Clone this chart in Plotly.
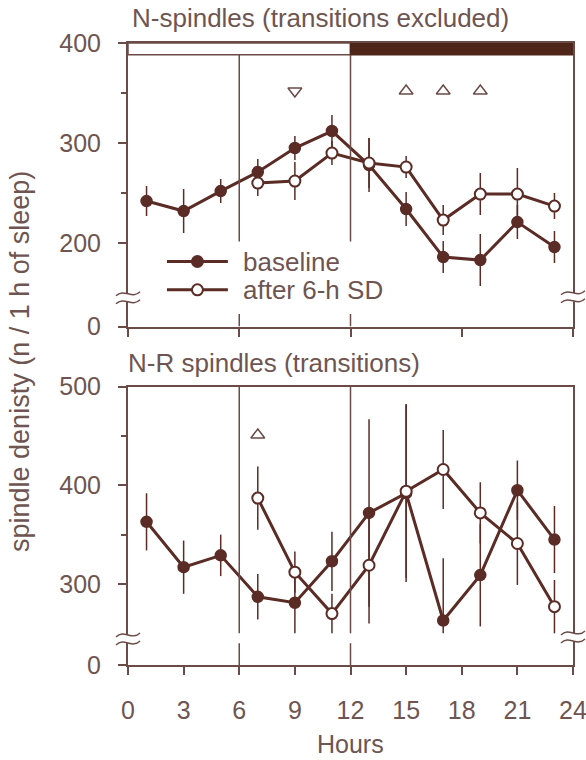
import plotly.graph_objects as go

# ---- data: spindle density per 2-h bin (mean and error) ----
hours = [1, 3, 5, 7, 9, 11, 13, 15, 17, 19, 21, 23]
hours_sd = [7, 9, 11, 13, 15, 17, 19, 21, 23]

# N-spindles (transitions excluded)
n_base = [242, 232, 252, 271, 295, 312, 278, 234, 186, 183, 221, 196]
n_base_err = [15, 22, 12, 13, 12, 16, 27, 17, 16, 26, 17, 16]
n_sd = [260, 262, 290, 280, 276, 223, 249, 249, 237]
n_sd_err = [13, 19, 12, 25, 11, 15, 21, 26, 13]

# N-R spindles (transitions)
nr_base = [363, 317, 329, 287, 281, 323, 372, 392, 263, 309, 395, 345]
nr_base_err_up = [29, 27, 21, 23, 31, 30, 95, 90, 63, 52, 30, 34]
nr_base_err_dn = [29, 27, 21, 23, 31, 30, 95, 90, 13, 52, 30, 34]
nr_sd = [387, 312, 270, 319, 394, 416, 372, 341, 277]
nr_sd_err = [32, 21, 20, 59, 88, 40, 31, 42, 27]

# significance markers (hour, direction)
sig_n_x = [9, 15, 17, 19]
sig_n_sym = ["triangle-down-open", "triangle-up-open", "triangle-up-open", "triangle-up-open"]
sig_n_level = 352
sig_nr_x = [7]
sig_nr_sym = ["triangle-up-open"]
sig_nr_level = 451

x_ticks = [0, 3, 6, 9, 12, 15, 18, 21, 24]

# ---- styling ----
LINE = "#5a2c25"
AXIS = "#6b4b47"
TEXT = "#6e5551"
DARK = "#4e2519"
FONT = "Liberation Sans, Arial, sans-serif"

W, H = 586, 760
ML, MR, MT, MB = 128, 12.5, 43.3, 95
PW = W - ML - MR
PH = H - MT - MB

# broken-axis baselines: value where the "0" label sits
top_zero = 116.6
bot_zero = 217.9


def px(xp):
    return (xp - ML) / PW


def py(yp):
    return (H - MB - yp) / PH


fig = go.Figure()

# ---- top panel traces ----
fig.add_trace(go.Scatter(
    x=hours, y=n_base, mode="lines+markers", xaxis="x2", yaxis="y2",
    line=dict(color=LINE, width=3),
    marker=dict(size=11, color=LINE, line=dict(color=LINE, width=1.5)),
    error_y=dict(type="data", array=n_base_err, color=LINE, thickness=1.5, width=0),
    name="baseline", showlegend=False))
fig.add_trace(go.Scatter(
    x=hours_sd, y=n_sd, mode="lines+markers", xaxis="x2", yaxis="y2",
    line=dict(color=LINE, width=3),
    marker=dict(size=11, color="white", line=dict(color=LINE, width=2)),
    error_y=dict(type="data", array=n_sd_err, color=LINE, thickness=1.5, width=0),
    name="after 6-h SD", showlegend=False))
fig.add_trace(go.Scatter(
    x=sig_n_x, y=[sig_n_level] * len(sig_n_x), mode="markers", xaxis="x2", yaxis="y2",
    marker=dict(symbol=sig_n_sym, size=12, color=AXIS, line=dict(color=AXIS, width=1.5)),
    showlegend=False, hoverinfo="skip"))

# ---- bottom panel traces ----
fig.add_trace(go.Scatter(
    x=hours, y=nr_base, mode="lines+markers", xaxis="x", yaxis="y",
    line=dict(color=LINE, width=3),
    marker=dict(size=11, color=LINE, line=dict(color=LINE, width=1.5)),
    error_y=dict(type="data", array=nr_base_err_up, arrayminus=nr_base_err_dn,
                 color=LINE, thickness=1.5, width=0),
    name="baseline", showlegend=False))
fig.add_trace(go.Scatter(
    x=hours_sd, y=nr_sd, mode="lines+markers", xaxis="x", yaxis="y",
    line=dict(color=LINE, width=3),
    marker=dict(size=11, color="white", line=dict(color=LINE, width=2)),
    error_y=dict(type="data", array=nr_sd_err, color=LINE, thickness=1.5, width=0),
    name="after 6-h SD", showlegend=False))
fig.add_trace(go.Scatter(
    x=sig_nr_x, y=[sig_nr_level] * len(sig_nr_x), mode="markers", xaxis="x", yaxis="y",
    marker=dict(symbol=sig_nr_sym, size=12, color=AXIS, line=dict(color=AXIS, width=1.5)),
    showlegend=False, hoverinfo="skip"))

shapes = []

# light / dark bar along the top of the upper panel
shapes.append(dict(type="rect", xref="x2", yref="y2", x0=0, x1=12, y0=388.3, y1=400,
                   fillcolor="white", line=dict(color=AXIS, width=1.5), layer="above"))
shapes.append(dict(type="rect", xref="x2", yref="y2", x0=12, x1=24, y0=388.3, y1=400,
                   fillcolor=DARK, line=dict(color=DARK, width=1.5), layer="above"))

# 6-h and 12-h dividers
for xv in (6, 12):
    shapes.append(dict(type="line", xref="x2", yref="y2", x0=xv, x1=xv, y0=388.3, y1=201.6,
                       line=dict(color=AXIS, width=1.5)))
    shapes.append(dict(type="line", xref="x2", yref="y2", x0=xv, x1=xv, y0=129, y1=top_zero,
                       line=dict(color=AXIS, width=1.5)))
    shapes.append(dict(type="line", xref="x", yref="y", x0=xv, x1=xv, y0=500, y1=250,
                       line=dict(color=AXIS, width=1.5)))
    shapes.append(dict(type="line", xref="x", yref="y", x0=xv, x1=xv, y0=240, y1=bot_zero,
                       line=dict(color=AXIS, width=1.5)))


def axis_break(cx, cy):
    """Double wavy break mark centred on an axis line (pixel coords)."""
    x0, x1 = cx - 12, cx + 12
    out = []
    ya, yb = cy - 4, cy + 4

    def wave(y):
        return (f"M {px(x0)},{py(y + 2)} C {px(x0 + 8)},{py(y - 6)} "
                f"{px(x1 - 8)},{py(y + 6)} {px(x1)},{py(y - 2)}")

    fill = (f"M {px(x0)},{py(ya + 2)} C {px(x0 + 8)},{py(ya - 6)} "
            f"{px(x1 - 8)},{py(ya + 6)} {px(x1)},{py(ya - 2)} "
            f"L {px(x1)},{py(yb - 2)} C {px(x1 - 8)},{py(yb + 6)} "
            f"{px(x0 + 8)},{py(yb - 6)} {px(x0)},{py(yb + 2)} Z")
    out.append(dict(type="path", xref="paper", yref="paper", path=fill,
                    fillcolor="white", line=dict(width=0), layer="above"))
    for y in (ya, yb):
        out.append(dict(type="path", xref="paper", yref="paper", path=wave(y),
                        line=dict(color=AXIS, width=1.5), layer="above"))
    return out


for cxp, cyp in ((ML, 298), (W - MR, 297), (ML, 639), (W - MR, 637)):
    shapes += axis_break(cxp, cyp)

# legend samples
leg_x0, leg_x1, leg_mx = 167, 228, 197.5
for row_y, filled in ((261.7, True), (290, False)):
    shapes.append(dict(type="line", xref="paper", yref="paper",
                       x0=px(leg_x0), x1=px(leg_x1), y0=py(row_y), y1=py(row_y),
                       line=dict(color=LINE, width=3), layer="above"))
    r = 5.5
    shapes.append(dict(type="circle", xref="paper", yref="paper",
                       x0=px(leg_mx - r), x1=px(leg_mx + r),
                       y0=py(row_y + r), y1=py(row_y - r),
                       fillcolor=LINE if filled else "white",
                       line=dict(color=LINE, width=2), layer="above"))

annotations = [
    dict(text="N-spindles (transitions excluded)", x=px(130), y=py(18), xref="paper",
         yref="paper", xanchor="left", yanchor="middle", showarrow=False,
         font=dict(size=26, color=TEXT, family=FONT)),
    dict(text="N-R spindles (transitions)", x=px(126), y=py(363), xref="paper",
         yref="paper", xanchor="left", yanchor="middle", showarrow=False,
         font=dict(size=26, color=TEXT, family=FONT)),
    dict(text="spindle denisty (n / 1 h of sleep)", x=px(20), y=py(362), xref="paper",
         yref="paper", xanchor="center", yanchor="middle", textangle=-90, showarrow=False,
         font=dict(size=27, color=TEXT, family=FONT)),
    dict(text="Hours", x=px(351), y=py(760), xref="paper", yref="paper",
         xanchor="center", yanchor="bottom", showarrow=False,
         font=dict(size=25, color=TEXT, family=FONT)),
    dict(text="baseline", x=px(241), y=py(261.7), xref="paper", yref="paper",
         xanchor="left", yanchor="middle", showarrow=False,
         font=dict(size=26, color=TEXT, family=FONT)),
    dict(text="after 6-h SD", x=px(241), y=py(290), xref="paper", yref="paper",
         xanchor="left", yanchor="middle", showarrow=False,
         font=dict(size=26, color=TEXT, family=FONT)),
]

common_x = dict(range=[0, 24], showgrid=False, zeroline=False, showline=True,
                linecolor=AXIS, linewidth=2, mirror=True, ticks="outside",
                ticklen=8, tickwidth=2, tickcolor=AXIS, automargin=False)
common_y = dict(showgrid=False, zeroline=False, showline=True, linecolor=AXIS,
                linewidth=2, mirror=True, ticks="outside", ticklen=8, tickwidth=2,
                tickcolor=AXIS, tickmode="array", ticklabelstandoff=12, automargin=False,
                tickfont=dict(size=25, color=TEXT, family=FONT))

fig.update_layout(
    width=W, height=H,
    margin=dict(l=ML, r=MR, t=MT, b=MB, autoexpand=False),
    paper_bgcolor="white", plot_bgcolor="white",
    showlegend=False,
    xaxis=dict(**common_x, anchor="y", tickmode="array", tickvals=x_ticks,
               ticktext=[str(v) for v in x_ticks], ticklabelstandoff=14,
               ticklabeloverflow="allow",
               tickfont=dict(size=25, color=TEXT, family=FONT)),
    xaxis2=dict(**common_x, anchor="y2", matches="x", tickmode="array",
                tickvals=[0, 6, 12, 18, 24], showticklabels=False),
    yaxis=dict(**common_y, domain=[0, 0.4476], anchor="x", range=[bot_zero, 500],
               tickvals=[bot_zero, 300, 400, 500], ticktext=["0", "300", "400", "500"],
               minor=dict(tickmode="array", tickvals=[350, 450], ticks="outside",
                          ticklen=5, tickwidth=1.5, tickcolor=AXIS, showgrid=False)),
    yaxis2=dict(**common_y, domain=[0.5442, 1], anchor="x2", range=[top_zero, 400],
                tickvals=[top_zero, 200, 300, 400], ticktext=["0", "200", "300", "400"],
                minor=dict(tickmode="array", tickvals=[250, 350], ticks="outside",
                           ticklen=5, tickwidth=1.5, tickcolor=AXIS, showgrid=False)),
    shapes=shapes,
    annotations=annotations,
)

fig.write_html("out.html")
